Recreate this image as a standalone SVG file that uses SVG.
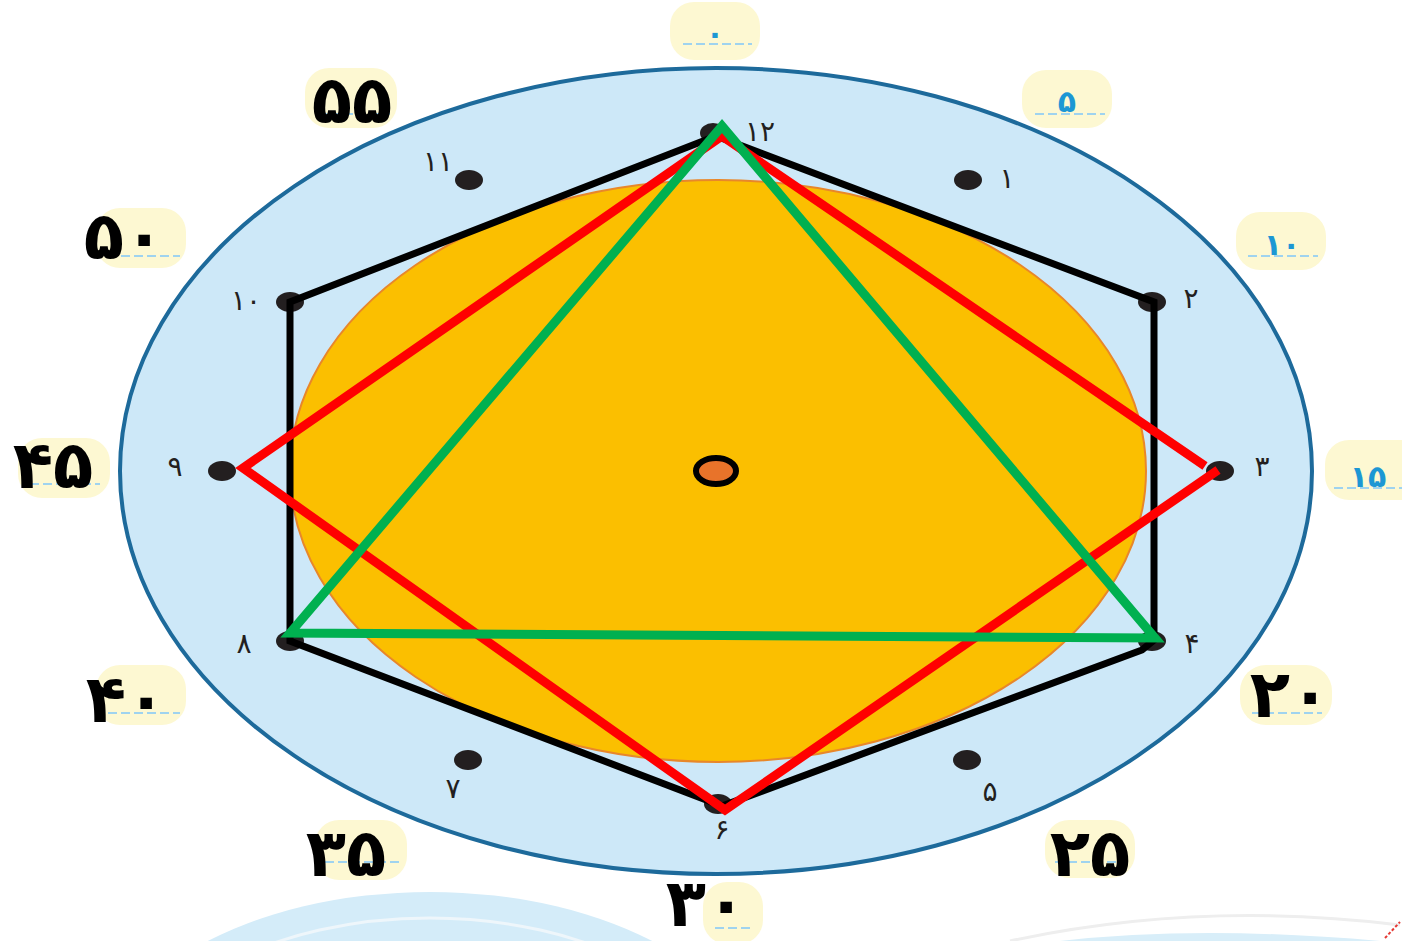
<svg xmlns="http://www.w3.org/2000/svg" width="1402" height="941" viewBox="0 0 1402 941">
<style>
.box{fill:#fdf8d2}
.dash{stroke:#9fd3ef;stroke-width:2;stroke-dasharray:9 4;fill:none}
.mb{font-family:"DejaVu Sans",sans-serif;font-size:30px;fill:#1c97d4;font-weight:bold;text-anchor:middle}
.mk{font-family:"DejaVu Sans",sans-serif;font-size:66px;fill:#000;font-weight:bold;text-anchor:middle}
.hl{font-family:"DejaVu Sans",sans-serif;font-size:28px;fill:#231f20;text-anchor:middle}
.dot{fill:#231f20}
</style>
<rect width="1402" height="941" fill="#fff"/>
<g id="bottom-deco">
<ellipse cx="430" cy="1080" rx="330" ry="188" fill="#d4ecf9"/>
<ellipse cx="430" cy="1090" rx="300" ry="172" fill="none" stroke="#eef6fb" stroke-width="3"/>
<path d="M1010 941 Q1200 900 1400 925" fill="none" stroke="#eeeeee" stroke-width="3"/>
<path d="M1060 941 Q1200 925 1380 941" fill="#d8eef9"/>
<path d="M1385 938 L1400 922" stroke="#e53935" stroke-width="2" stroke-dasharray="3 2"/>
</g>
<g id="clock-face">
<ellipse cx="716" cy="471" rx="596" ry="403" fill="#cde8f8" stroke="#1d6a9b" stroke-width="4"/>
<ellipse cx="718" cy="471" rx="428" ry="291" fill="#fbbf00" stroke="#e8872a" stroke-width="2"/>
</g>
<g id="hour-dots">
<ellipse class="dot" cx="713" cy="133" rx="13" ry="10"/>
<ellipse class="dot" cx="968" cy="180" rx="14" ry="10"/>
<ellipse class="dot" cx="1152" cy="302" rx="14" ry="10"/>
<ellipse class="dot" cx="1220" cy="471" rx="14" ry="10"/>
<ellipse class="dot" cx="1152" cy="641" rx="14" ry="10"/>
<ellipse class="dot" cx="967" cy="760" rx="14" ry="10"/>
<ellipse class="dot" cx="718" cy="804" rx="14" ry="10"/>
<ellipse class="dot" cx="468" cy="760" rx="14" ry="10"/>
<ellipse class="dot" cx="290" cy="641" rx="14" ry="10"/>
<ellipse class="dot" cx="222" cy="471" rx="14" ry="10"/>
<ellipse class="dot" cx="290" cy="302" rx="14" ry="10"/>
<ellipse class="dot" cx="469" cy="180" rx="14" ry="10"/>
</g>
<g id="hour-labels">
<text class="hl" x="760" y="141">۱۲</text>
<text class="hl" x="1007" y="188">۱</text>
<text class="hl" x="1191" y="308">۲</text>
<text class="hl" x="1262" y="476">۳</text>
<text class="hl" x="1192" y="653">۴</text>
<text class="hl" x="990" y="801">۵</text>
<text class="hl" x="722" y="839">۶</text>
<text class="hl" x="453" y="798">۷</text>
<text class="hl" x="244" y="653">۸</text>
<text class="hl" x="175" y="476">۹</text>
<text class="hl" x="246" y="310">۱۰</text>
<text class="hl" x="438" y="171">۱۱</text>
</g>
<g id="minute-labels">
<rect class="box" x="670" y="2" width="90" height="58" rx="24"/>
<text class="mb" x="715" y="44">۰</text>
<path class="dash" d="M683 44 H752"/>
<rect class="box" x="1022" y="70" width="90" height="58" rx="24"/>
<text class="mb" x="1067" y="112">۵</text>
<path class="dash" d="M1035 114 H1105"/>
<rect class="box" x="1236" y="212" width="90" height="58" rx="24"/>
<text class="mb" x="1282" y="255">۱۰</text>
<path class="dash" d="M1248 256 H1318"/>
<rect class="box" x="1325" y="440" width="100" height="60" rx="24"/>
<text class="mb" x="1368" y="487">۱۵</text>
<path class="dash" d="M1334 488 H1402"/>
<rect class="box" x="1240" y="665" width="92" height="60" rx="26"/>
<path class="dash" d="M1252 713 H1322"/>
<text class="mk" x="1290" y="717">۲۰</text>
<rect class="box" x="1045" y="820" width="90" height="58" rx="24"/>
<path class="dash" d="M1055 862 H1125"/>
<text class="mk" x="1090" y="876">۲۵</text>
<rect class="box" x="703" y="882" width="60" height="62" rx="24"/>
<path class="dash" d="M715 928 H752"/>
<text class="mk" x="706" y="926">۳۰</text>
<rect class="box" x="315" y="820" width="92" height="60" rx="24"/>
<path class="dash" d="M325 862 H400"/>
<text class="mk" x="346" y="876">۳۵</text>
<rect class="box" x="96" y="665" width="90" height="60" rx="24"/>
<path class="dash" d="M108 713 H180"/>
<text class="mk" x="126" y="722">۴۰</text>
<rect class="box" x="18" y="438" width="92" height="60" rx="24"/>
<path class="dash" d="M30 484 H100"/>
<text class="mk" x="53" y="488">۴۵</text>
<rect class="box" x="96" y="208" width="90" height="60" rx="24"/>
<path class="dash" d="M108 256 H180"/>
<text class="mk" x="124" y="259">۵۰</text>
<rect class="box" x="305" y="68" width="92" height="60" rx="24"/>
<path class="dash" d="M318 114 H390"/>
<text class="mk" x="352" y="123">۵۵</text>
</g>
<g id="connectors" fill="none" stroke-linejoin="miter">
<polyline points="716,136 1154,302 1154,640 1142,650 722,806 290,641 290,302 716,136" stroke="#000" stroke-width="7"/>
<polyline points="1205,466 722,136 243,468 725,810 1218,470" stroke="#ff0000" stroke-width="9"/>
<polygon points="722,126 1155,638 290,633" stroke="#00b050" stroke-width="9"/>
</g>
<g id="center">
<ellipse cx="716" cy="471" rx="20" ry="13" fill="#e8732a" stroke="#000" stroke-width="6"/>
</g>
</svg>
